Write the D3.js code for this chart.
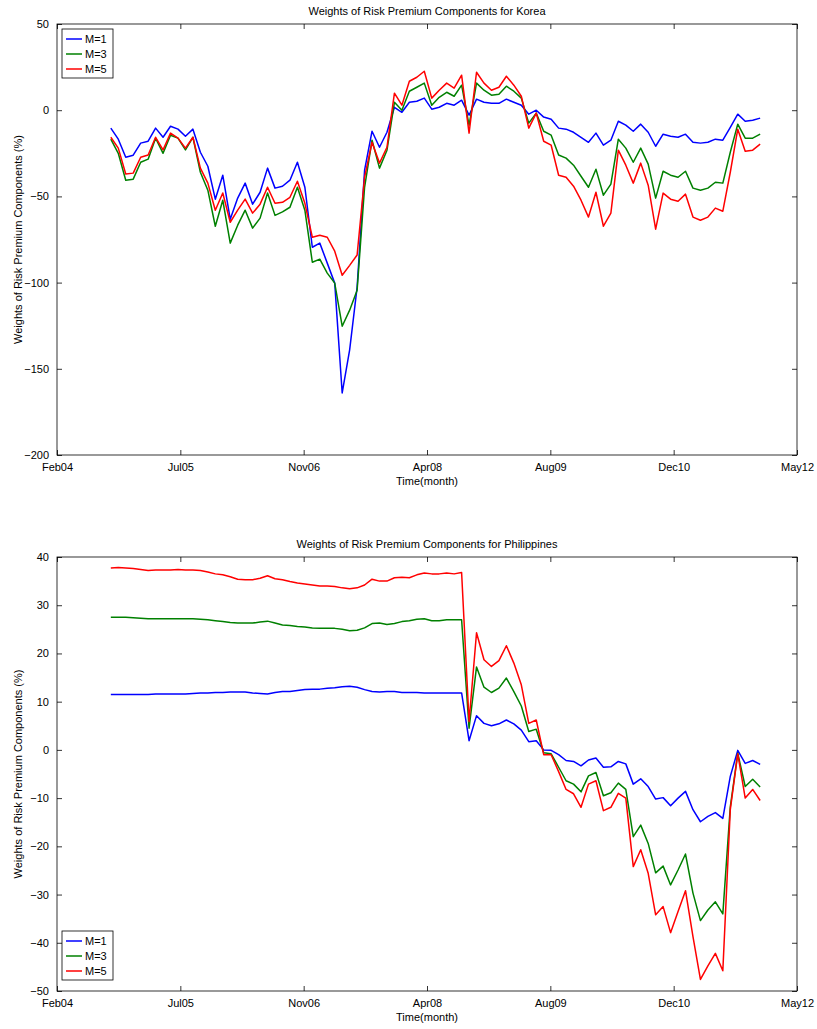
<!DOCTYPE html>
<html>
<head>
<meta charset="utf-8">
<script src="https://cdn.jsdelivr.net/npm/d3@7"></script>
<style>
  body { margin: 0; background: #fff; }
  svg { font-family: "Liberation Sans", Arial, sans-serif; }
  .tick text { font-size: 11px; fill: #000; }
</style>
</head>
<body>
<div class="container"></div>
<script>
// x axis: months since Feb04, ticks every ~16.5 months
var tickLabels = ["Feb04", "Jul05", "Nov06", "Apr08", "Aug09", "Dec10", "May12"];
var firstMonth = 7.2; // Sep04

var koreaM1 = [-10.4,-16.8,-27.3,-26.1,-19.1,-18,-10.4,-15.7,-9.3,-11,-15.1,-11,-24.4,-32.5,-51.6,-37.7,-63.2,-51,-42.3,-54.5,-47.6,-33.6,-45.2,-44.1,-40.6,-30.2,-44.7,-79.5,-77.1,
  -88.7,-100.3,-164,-139,-102.7,-34.8,-12.2,-21.5,-12.8,1.7,-1.2,4.6,5.2,7,0.6,1.7,4,2.9,5.8,-2.9,6.4,4.6,4,4,6.4,4.6,2.9,-2.3,0,-4,-5.2,-10.4,
  -11,-12.8,-15.7,-18.6,-13.3,-20.3,-17.4,-6.4,-8.7,-12.2,-8.1,-12.8,-20.9,-13.9,-15.1,-15.7,-13.9,-18.6,-19.1,-18.6,-16.8,-17.4,-9.9,-2.3,-6.4,-5.8,-4.6];
var koreaM3 = [-16.8,-25,-40.6,-40,-30.2,-28.4,-16.2,-25,-14.5,-16.2,-23,-15.7,-36,-46.4,-67.3,-52.2,-77.1,-66.7,-58,-68.4,-62.6,-48,-61,-59,-56.3,-44.7,-58,-88.2,-86.4,
  -94.5,-100.3,-125.3,-116,-104.4,-44.7,-17.4,-33.6,-23.2,4.6,0,11,13.3,15.7,2.9,7.5,10.4,8.1,14.5,-8.7,15.7,11.6,8.7,9.3,13.9,11,7,-7.5,-1.7,-12.2,-14.5,-26,
  -27.8,-31.9,-38.3,-44.7,-34.2,-49.3,-42.9,-16.8,-22,-30.2,-22,-31.3,-51,-35.4,-37.7,-38.9,-35.4,-45.2,-46.4,-45.2,-41.8,-42.3,-24.4,-8.1,-16.2,-16.2,-13.9];
var koreaM5 = [-15.7,-22,-37,-36.5,-27.3,-26,-15.7,-23,-13.3,-16.2,-22,-15.7,-33.6,-42.3,-58,-48,-65,-58,-51.6,-59.7,-54.5,-44.7,-54,-53.4,-50.5,-41.2,-54,-73.7,-72.5,
  -73.7,-81.8,-95.7,-90,-84,-38.9,-18.6,-30.7,-21.5,9.9,2.9,16.8,19.1,22.6,7,11.6,15.7,12.8,20.3,-13.3,22,15.7,11.6,13.3,19.7,14.5,8.1,-10.4,-1.7,-18,-20.3,-37.7,
  -38.9,-44.1,-52.2,-62,-47.6,-67.3,-59.7,-23.2,-31.9,-42.3,-30.7,-43.5,-69,-48.1,-51.6,-52.8,-48.7,-62,-63.8,-62,-56.8,-58.6,-36,-11,-23.8,-23.2,-19.7];

var philM1 = [11.5,11.5,11.5,11.5,11.5,11.5,11.6,11.6,11.6,11.6,11.6,11.7,11.8,11.8,11.9,11.9,12.0,12.0,12.0,11.8,11.7,11.6,11.9,12.1,12.1,12.3,12.5,12.6,12.6,12.8,12.9,13.1,13.2,13.0,12.5,12.1,12.0,12.1,12.1,11.9,11.9,11.9,11.8,11.8,11.8,11.8,11.8,11.8,
  1.9,7.1,5.5,5.0,5.4,6.2,5.4,4.1,1.7,1.9,0,-0.1,-1.0,-2.2,-2.4,-3.3,-2.1,-1.7,-3.6,-3.5,-2.4,-2.9,-7.1,
  -6.0,-7.6,-10.2,-9.9,-11.6,-10.0,-8.6,-12.4,-14.9,-13.8,-13.0,-14.2,-5.5,-0.1,-2.8,-2.2,-3.0];
var philM3 = [27.5,27.5,27.5,27.4,27.3,27.2,27.2,27.2,27.2,27.2,27.2,27.2,27.1,27.0,26.8,26.6,26.4,26.3,26.3,26.3,26.5,26.7,26.3,25.9,25.8,25.6,25.5,25.3,25.2,25.2,25.2,25.0,24.7,24.8,25.3,26.2,26.3,26.0,26.2,26.6,26.8,27.1,27.2,26.8,26.8,27.0,27.0,27.0,
  4.5,17.2,13.0,11.9,12.8,14.9,12.1,9.1,3.8,4.3,-0.6,-0.8,-3.6,-6.4,-7.1,-8.7,-5.4,-4.7,-9.5,-8.9,-6.9,-8.2,-18.0,
  -15.6,-19.4,-25.5,-24.1,-28.0,-24.9,-21.6,-29.7,-35.4,-33.2,-31.5,-34.0,-11.8,-0.7,-7.6,-6.1,-7.7];
var philM5 = [37.7,37.8,37.7,37.6,37.4,37.2,37.3,37.3,37.3,37.4,37.3,37.3,37.2,36.9,36.5,36.3,35.9,35.4,35.3,35.3,35.6,36.1,35.5,35.3,34.9,34.6,34.4,34.2,34.0,34.0,33.9,33.6,33.4,33.6,34.2,35.4,35.0,35.0,35.7,35.8,35.7,36.3,36.7,36.5,36.5,36.7,36.5,36.8,
  5.9,24.3,18.7,17.3,18.5,21.6,18.0,13.5,5.5,6.2,-1.0,-1.0,-4.5,-8.2,-9.1,-11.9,-7.1,-6.4,-12.6,-11.9,-9.0,-10.0,-24.2,
  -20.7,-25.6,-34.2,-32.5,-37.9,-33.5,-29.2,-38.7,-47.6,-44.8,-42.2,-45.8,-12.4,-0.8,-10.0,-8.2,-10.5];

var seriesNames = ["M=1", "M=3", "M=5"];
var seriesColors = ["#0000ff", "#008000", "#ff0000"];

var svg = d3.select(".container").append("svg")
  .attr("width", 817).attr("height", 1029);

function drawPanel(opts) {
  var left = 57, width = 740;
  var x = d3.scaleLinear().domain([0, 99]).range([left, left + width]);
  var y = d3.scaleLinear().domain(opts.yDomain).range([opts.top + opts.height, opts.top]);
  var g = svg.append("g");

  g.append("rect")
    .attr("x", left).attr("y", opts.top)
    .attr("width", width).attr("height", opts.height)
    .attr("fill", "#fff").attr("stroke", "#000").attr("stroke-width", 0.8);

  var xTicks = tickLabels.map(function (d, i) { return i * 16.5; });
  var xAxis = d3.axisBottom(x).tickValues(xTicks)
    .tickFormat(function (d, i) { return tickLabels[i]; })
    .tickSizeInner(-5).tickSizeOuter(0).tickPadding(8);
  g.append("g").attr("transform", `translate(0,${opts.top + opts.height})`).call(xAxis);
  g.append("g").attr("transform", `translate(0,${opts.top})`)
    .call(d3.axisTop(x).tickValues(xTicks).tickSizeInner(-5).tickSizeOuter(0).tickFormat(""));

  var yAxis = d3.axisLeft(y).tickValues(opts.yTicks).tickSizeInner(-5).tickSizeOuter(0).tickPadding(8);
  g.append("g").attr("transform", `translate(${left},0)`).call(yAxis);
  g.append("g").attr("transform", `translate(${left + width},0)`)
    .call(d3.axisRight(y).tickValues(opts.yTicks).tickSizeInner(-5).tickSizeOuter(0).tickFormat(""));
  g.selectAll(".domain").remove();
  g.selectAll(".tick line").attr("stroke", "#000").attr("stroke-width", 0.8);

  var line = d3.line()
    .x(function (d, i) { return x(firstMonth + i * 0.9985); })
    .y(function (d) { return y(d); });

  opts.series.forEach(function (s, k) {
    g.append("path").datum(s)
      .attr("fill", "none").attr("stroke", seriesColors[k])
      .attr("stroke-width", 1.5).attr("stroke-linejoin", "round")
      .attr("d", line);
  });

  g.append("text").attr("x", left + width / 2).attr("y", opts.top - 9)
    .attr("text-anchor", "middle").attr("font-size", 11).text(opts.title);
  g.append("text").attr("x", left + width / 2).attr("y", opts.top + opts.height + 30)
    .attr("text-anchor", "middle").attr("font-size", 11).text("Time(month)");
  g.append("text")
    .attr("transform", `translate(22,${opts.top + opts.height / 2}) rotate(-90)`)
    .attr("text-anchor", "middle").attr("font-size", 11)
    .text("Weights of Risk Premium Components (%)");

  // legend
  var lg = g.append("g").attr("transform", `translate(62,${opts.legendTop})`);
  lg.append("rect").attr("width", 51).attr("height", 49)
    .attr("fill", "#fff").attr("stroke", "#000").attr("stroke-width", 0.8);
  seriesNames.forEach(function (n, k) {
    var yy = 10 + k * 15;
    lg.append("line").attr("x1", 4).attr("x2", 20).attr("y1", yy).attr("y2", yy)
      .attr("stroke", seriesColors[k]).attr("stroke-width", 1.5);
    lg.append("text").attr("x", 23).attr("y", yy + 4).attr("font-size", 11).text(n);
  });
}

drawPanel({
  top: 24, height: 431, yDomain: [-200, 50],
  yTicks: [-200, -150, -100, -50, 0, 50],
  title: "Weights of Risk Premium Components for Korea",
  series: [koreaM1, koreaM3, koreaM5], legendTop: 29
});

drawPanel({
  top: 557, height: 434, yDomain: [-50, 40],
  yTicks: [-50, -40, -30, -20, -10, 0, 10, 20, 30, 40],
  title: "Weights of Risk Premium Components for Philippines",
  series: [philM1, philM3, philM5], legendTop: 931
});
</script>
</body>
</html>
